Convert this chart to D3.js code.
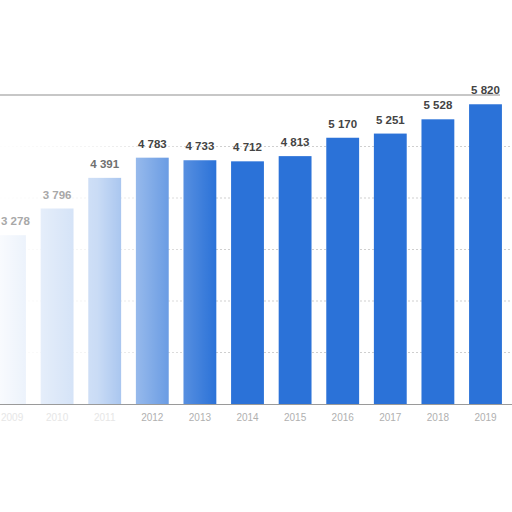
<!DOCTYPE html>
<html>
<head>
<meta charset="utf-8">
<script src="https://cdn.jsdelivr.net/npm/d3@7"></script>
<style>
  html, body { margin: 0; padding: 0; background: #fff; }
  svg { display: block; }
</style>
</head>
<body>
<svg id="chart" width="512" height="512"></svg>
<script>
const years = ["2009","2010","2011","2012","2013","2014","2015","2016","2017","2018","2019"];
const values = [3278, 3796, 4391, 4783, 4733, 4712, 4813, 5170, 5251, 5528, 5820];
const yTicks = [1000, 2000, 3000, 4000, 5000, 6000];
const valueLabels = ["3 278","3 796","4 391","4 783","4 733","4 712","4 813","5 170","5 251","5 528","5 820"];

const svg = d3.select("#chart");
const W = 512, H = 512;

const x = d3.scaleBand()
  .domain(years)
  .range([-14.3, 509.3])
  .paddingInner(0.31)
  .paddingOuter(0.155);

const y = d3.scaleLinear().domain([0, 6000]).range([404, 95]);

const defs = svg.append("defs");
const fade = defs.append("linearGradient")
  .attr("id", "fade").attr("x1", 0).attr("x2", 1).attr("y1", 0).attr("y2", 0);
fade.append("stop").attr("offset", "0%").attr("stop-color", "#fff").attr("stop-opacity", 0.97);
fade.append("stop").attr("offset", "45%").attr("stop-color", "#fff").attr("stop-opacity", 0.75);
fade.append("stop").attr("offset", "100%").attr("stop-color", "#fff").attr("stop-opacity", 0);

// gridlines
svg.append("g")
  .selectAll("line")
  .data(yTicks)
  .join("line")
  .attr("x1", 0).attr("x2", d => d === 6000 ? 500 : W)
  .attr("y1", d => y(d)).attr("y2", d => y(d))
  .attr("stroke", d => d === 6000 ? "#b5b5b5" : "#cfcfcf")
  .attr("stroke-width", d => d === 6000 ? 1.5 : 1)
  .attr("stroke-dasharray", d => d === 6000 ? null : "2,2");

// bars
svg.append("g")
  .selectAll("rect")
  .data(values)
  .join("rect")
  .attr("x", (d, i) => x(years[i]))
  .attr("width", x.bandwidth())
  .attr("y", d => y(d))
  .attr("height", d => y(0) - y(d))
  .attr("fill", "#2b72d8");

// axis baseline
svg.append("line")
  .attr("x1", 0).attr("x2", W)
  .attr("y1", y(0) + 0.5).attr("y2", y(0) + 0.5)
  .attr("stroke", "#9a9a9a").attr("stroke-width", 1.2);

// fade overlay on left bars (washed out region in the reference)
const fadeEnd = x("2013") + x.bandwidth();
svg.append("rect")
  .attr("x", 0).attr("y", y(6000) + 2)
  .attr("width", fadeEnd).attr("height", y(0) - y(6000) - 2)
  .attr("fill", "url(#fade)");

const font = "'Liberation Sans', Arial, sans-serif";

// value labels
const labels = svg.append("g")
  .selectAll("text")
  .data(values)
  .join("text")
  .attr("y", d => y(d) - 10)
  .attr("font-family", font)
  .attr("font-size", 11.5)
  .attr("font-weight", "bold")
  .attr("fill", (d, i) => i < 2 ? "#a8a8a8" : (i === 2 ? "#707070" : "#444"))
  .text((d, i) => valueLabels[i]);
labels.each(function(d, i) {
  const w = this.getComputedTextLength();
  const cx = x(years[i]) + x.bandwidth() / 2;
  d3.select(this).attr("x", Math.max(cx - w / 2, 1));
});

// x axis labels
const xAxis = d3.axisBottom(x).tickSize(0).tickPadding(10);
const gx = svg.append("g")
  .attr("transform", `translate(0,${y(0)})`)
  .call(xAxis);
gx.select(".domain").remove();
gx.selectAll("text")
  .attr("font-family", font)
  .attr("font-size", 10)
  .attr("fill", (d, i) => i < 3 ? "#e6e6e6" : "#b0b0b0")
  .each(function() {
    const w = this.getComputedTextLength();
    const t = d3.select(this.parentNode).attr("transform");
    const cx = +/translate\(([-\d.]+)/.exec(t)[1];
    if (cx - w / 2 < 1) d3.select(this).attr("dx", 1 - (cx - w / 2));
  });
</script>
</body>
</html>
